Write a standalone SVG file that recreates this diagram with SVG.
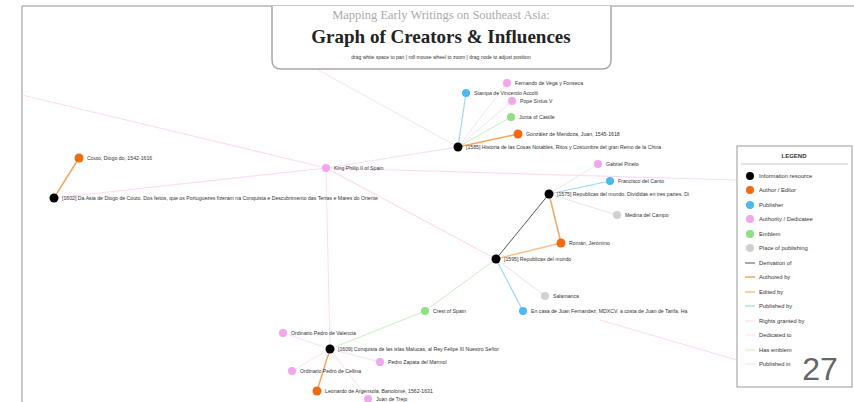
<svg xmlns="http://www.w3.org/2000/svg" width="854" height="402" viewBox="0 0 854 402">
<style>
.lbl{font-family:"Liberation Sans",Arial,sans-serif;font-size:5.2px;fill:#333}
.lg{font-family:"Liberation Sans",Arial,sans-serif;font-size:5.8px;fill:#333}
.res{fill:#000}.aut{fill:#f26a0f}.pub{fill:#4cb8f0}.dedn{fill:#f2a6ee}.emb{fill:#8ee083}.plc{fill:#d0d0d0}
.e{fill:none}
.der{stroke:#555;stroke-width:1}
.au{stroke:#f5a65c;stroke-width:1.5}
.ed{stroke:#f7c28c;stroke-width:1.5}
.pb{stroke:#9fd6f3;stroke-width:1.2}
.rg{stroke:#f9dcf6;stroke-width:1.2}
.dd{stroke:#f8e0f6;stroke-width:1}
.he{stroke:#c8eec2;stroke-width:1}
.pi{stroke:#e6e6e6;stroke-width:1}
</style>
<rect width="854" height="402" fill="#fff"/>
<g id="frame" fill="none" stroke="#b5b5b5" stroke-width="1.5">
<line x1="22" y1="6" x2="854" y2="6"/>
<line x1="22" y1="6" x2="22" y2="402"/>
</g>
<g id="connectors" class="e">
<line class="rg" x1="22" y1="95" x2="326" y2="168"/>
<line class="rg" x1="326" y1="168" x2="458" y2="147"/>
<line class="rg" x1="54" y1="198" x2="326" y2="168"/>
<line class="rg" x1="326" y1="168" x2="496" y2="259"/>
<line class="rg" x1="326" y1="168" x2="737" y2="180"/>
<line class="dd" x1="326" y1="168" x2="330" y2="349"/>
<line class="rg" x1="600" y1="320" x2="737" y2="360"/>
<line class="dd" x1="458" y1="147" x2="300" y2="60"/>
<line class="dd" x1="458" y1="147" x2="507" y2="83"/>
<line class="dd" x1="458" y1="147" x2="512" y2="101"/>
<line class="he" x1="458" y1="147" x2="511" y2="117"/>
<line class="pb" x1="458" y1="147" x2="466" y2="93"/>
<line class="au" x1="458" y1="147" x2="518" y2="134"/>
<line class="au" x1="54" y1="198" x2="79" y2="158"/>
<line class="der" x1="549" y1="194" x2="496" y2="259"/>
<line class="au" x1="549" y1="194" x2="561" y2="243"/>
<line class="ed" x1="561" y1="243" x2="496" y2="259"/>
<line class="dd" x1="549" y1="194" x2="598" y2="164"/>
<line class="pb" x1="549" y1="194" x2="610" y2="181"/>
<line class="pi" x1="549" y1="194" x2="617" y2="215"/>
<line class="pb" x1="496" y1="259" x2="523" y2="311"/>
<line class="pi" x1="496" y1="259" x2="545" y2="296"/>
<line class="he" x1="496" y1="259" x2="425" y2="311"/>
<line class="he" x1="425" y1="311" x2="330" y2="349"/>
<line class="au" x1="330" y1="349" x2="317" y2="391"/>
<line class="dd" x1="330" y1="349" x2="283" y2="333"/>
<line class="dd" x1="330" y1="349" x2="292" y2="371"/>
<line class="dd" x1="330" y1="349" x2="380" y2="362"/>
<line class="dd" x1="330" y1="349" x2="368" y2="399"/>
</g>
<g id="n1"><circle class="dedn" cx="507" cy="83" r="4"/><text class="lbl" x="515" y="85">Fernando de Vega y Fonseca</text></g>
<g id="n2"><circle class="pub" cx="466" cy="93" r="4"/><text class="lbl" x="474" y="95">Stampa de Vincentio Accolti</text></g>
<g id="n3"><circle class="dedn" cx="512" cy="101" r="4"/><text class="lbl" x="520" y="103">Pope Sixtus V</text></g>
<g id="n4"><circle class="emb" cx="511" cy="117" r="4"/><text class="lbl" x="519" y="119">Junta of Castile</text></g>
<g id="n5"><circle class="aut" cx="518" cy="134" r="4.5"/><text class="lbl" x="526" y="136">González de Mendoza, Juan, 1545-1618</text></g>
<g id="n6"><circle class="res" cx="458" cy="147" r="4.5"/><text class="lbl" x="466" y="149">[1585] Historia de las Cosas Notables, Ritos y Costumbre del gran Reino de la China</text></g>
<g id="n7"><circle class="aut" cx="79" cy="158" r="4.5"/><text class="lbl" x="87" y="160">Couto, Diogo do, 1542-1616</text></g>
<g id="n8"><circle class="dedn" cx="326" cy="168" r="4"/><text class="lbl" x="334" y="170">King Philip II of Spain</text></g>
<g id="n9"><circle class="res" cx="54" cy="198" r="4.5"/><text class="lbl" x="62" y="200">[1602] Da Asia de Diogo de Couto. Dos feitos, que os Portuguezes fizeram na Conquista e Descubrimento das Terras e Mares do Oriente</text></g>
<g id="n10"><circle class="dedn" cx="598" cy="164" r="4"/><text class="lbl" x="606" y="166">Gabriel Pinelo</text></g>
<g id="n11"><circle class="pub" cx="610" cy="181" r="4"/><text class="lbl" x="618" y="183">Francisco del Canto</text></g>
<g id="n12"><circle class="res" cx="549" cy="194" r="4.5"/><text class="lbl" x="557" y="196">[1575] Republicas del mundo. Divididas en tres partes. Di</text></g>
<g id="n13"><circle class="plc" cx="617" cy="215" r="4"/><text class="lbl" x="625" y="217">Medina del Campo</text></g>
<g id="n14"><circle class="aut" cx="561" cy="243" r="4.5"/><text class="lbl" x="569" y="245">Román, Jerónimo</text></g>
<g id="n15"><circle class="res" cx="496" cy="259" r="4.5"/><text class="lbl" x="504" y="261">[1595] Republicas del mundo</text></g>
<g id="n16"><circle class="plc" cx="545" cy="296" r="4"/><text class="lbl" x="553" y="298">Salamanca</text></g>
<g id="n17"><circle class="emb" cx="425" cy="311" r="4"/><text class="lbl" x="433" y="313">Crest of Spain</text></g>
<g id="n18"><circle class="pub" cx="523" cy="311" r="4"/><text class="lbl" x="531" y="313">En casa de Juan Fernandez, MDXCV, a costa de Juan de Tarifa, Ha</text></g>
<g id="n19"><circle class="dedn" cx="283" cy="333" r="4"/><text class="lbl" x="291" y="335">Ordinario Pedro de Valencia</text></g>
<g id="n20"><circle class="res" cx="330" cy="349" r="4.5"/><text class="lbl" x="338" y="351">[1609] Conquista de las islas Malucas, al Rey Felipe III Nuestro Señor</text></g>
<g id="n21"><circle class="dedn" cx="380" cy="362" r="4"/><text class="lbl" x="388" y="364">Pedro Zapata del Marmol</text></g>
<g id="n22"><circle class="dedn" cx="292" cy="371" r="4"/><text class="lbl" x="300" y="373">Ordinario Pedro de Cellina</text></g>
<g id="n23"><circle class="aut" cx="317" cy="391" r="4.5"/><text class="lbl" x="325" y="393">Leonardo de Argensola, Bartolomé, 1562-1631</text></g>
<g id="n24"><circle class="dedn" cx="368" cy="399" r="4"/><text class="lbl" x="376" y="401">Juan de Trejo</text></g>
<g id="title">
<path d="M272 6 V60 Q272 69 281 69 H602 Q611 69 611 60 V6" fill="#fff" stroke="#a8a8a8" stroke-width="1.5"/>
<text x="441" y="19" text-anchor="middle" font-family="Liberation Serif,serif" font-size="12.5" fill="#aaa">Mapping Early Writings on Southeast Asia:</text>
<text x="441" y="43" text-anchor="middle" font-family="Liberation Serif,serif" font-size="19" font-weight="bold" fill="#222">Graph of Creators &amp; Influences</text>
<text x="441" y="59" text-anchor="middle" font-family="Liberation Sans,Arial,sans-serif" font-size="5" fill="#333">drag white space to pan | roll mouse wheel to zoom | drag node to adjust position</text>
</g>
<g id="legend">
<rect x="737" y="146" width="115" height="241" fill="#fff" fill-opacity="0.85" stroke="#999" stroke-width="1"/>
<text x="794" y="158" text-anchor="middle" font-family="Liberation Sans,Arial,sans-serif" font-size="6" font-weight="bold" fill="#333">LEGEND</text>
<line x1="741" y1="164" x2="848" y2="164" stroke="#bbb" stroke-width="0.8"/>
<circle class="res" cx="750" cy="176" r="4"/><text class="lg" x="759" y="178">Information resource</text>
<circle class="aut" cx="750" cy="190" r="4"/><text class="lg" x="759" y="192">Author / Editor</text>
<circle class="pub" cx="750" cy="205" r="4"/><text class="lg" x="759" y="207">Publisher</text>
<circle class="dedn" cx="750" cy="219" r="4"/><text class="lg" x="759" y="221">Authority / Dedicatee</text>
<circle class="emb" cx="750" cy="234" r="4"/><text class="lg" x="759" y="236">Emblem</text>
<circle class="plc" cx="750" cy="248" r="4"/><text class="lg" x="759" y="250">Place of publishing</text>
<line class="der" x1="745" y1="263" x2="755" y2="263" stroke-width="1.5"/><text class="lg" x="759" y="265">Derivation of</text>
<line class="au" x1="745" y1="277" x2="755" y2="277"/><text class="lg" x="759" y="279">Authored by</text>
<line class="ed" x1="745" y1="292" x2="755" y2="292"/><text class="lg" x="759" y="294">Edited by</text>
<line class="pb" x1="745" y1="306" x2="755" y2="306" stroke-width="1.5"/><text class="lg" x="759" y="308">Published by</text>
<line class="rg" x1="745" y1="321" x2="755" y2="321" stroke-width="1.5"/><text class="lg" x="759" y="323">Rights granted by</text>
<line class="dd" x1="745" y1="335" x2="755" y2="335" stroke-width="1.5"/><text class="lg" x="759" y="337">Dedicated to</text>
<line class="he" x1="745" y1="350" x2="755" y2="350" stroke-width="1.5"/><text class="lg" x="759" y="352">Has emblem</text>
<line class="pi" x1="745" y1="364" x2="755" y2="364" stroke-width="1.5"/><text class="lg" x="759" y="366">Published in</text>
</g>
<text x="820" y="380" text-anchor="middle" font-family="Liberation Sans,Arial,sans-serif" font-size="32" fill="#666">27</text>
</svg>
